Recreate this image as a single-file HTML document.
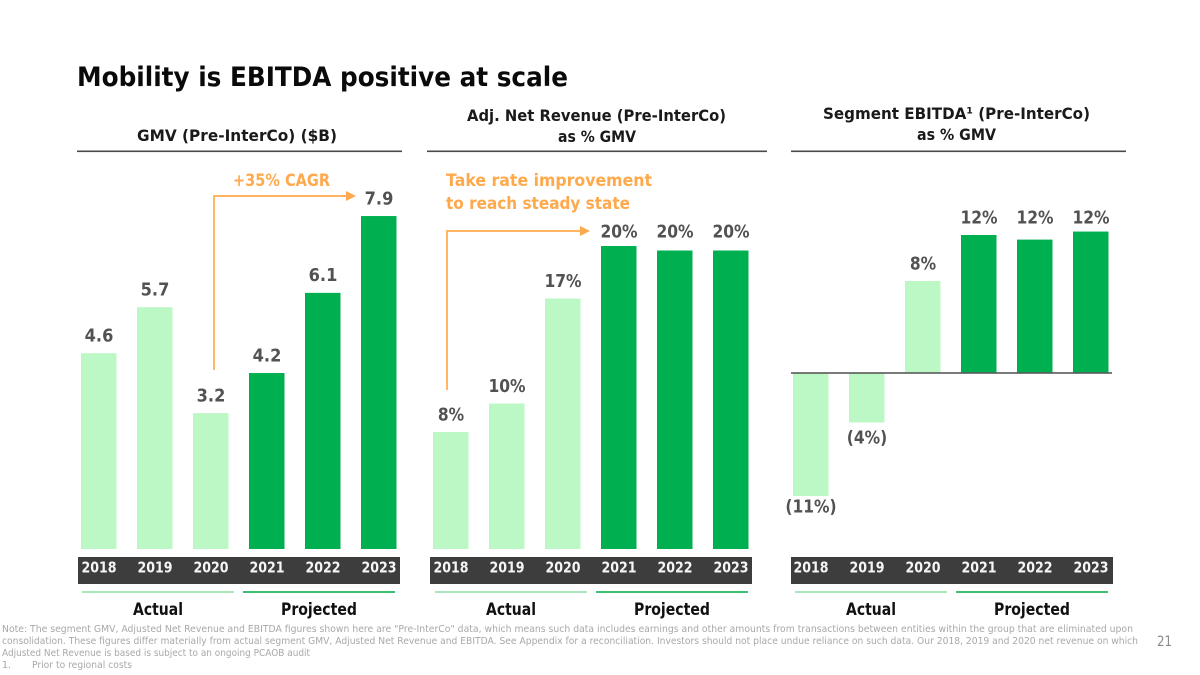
<!DOCTYPE html>
<html lang="en">
<head>
<meta charset="utf-8">
<title>Mobility is EBITDA positive at scale</title>
<style>
html,body{margin:0;padding:0;background:#fff;width:1200px;height:675px;overflow:hidden}
svg{display:block}
text{font-family:"DejaVu Sans","Liberation Sans",sans-serif}
.b{font-weight:700}
.head{font-size:16px;font-weight:700;fill:#1a1a1a}
.orange{font-size:17px;font-weight:700;fill:#ffa94d}
.group{font-size:16.5px;font-weight:700;fill:#111}
.note{font-size:9.5px;fill:#a8a8a8}
</style>
</head>
<body>
<svg id="slide" width="1200" height="675" viewBox="0 0 1200 675" xmlns="http://www.w3.org/2000/svg">
<text class="b" x="77" y="86" font-size="27" fill="#0a0a0a" textLength="491" lengthAdjust="spacingAndGlyphs">Mobility is EBITDA positive at scale</text>

<text class="head" x="137" y="141" textLength="200" lengthAdjust="spacingAndGlyphs">GMV (Pre-InterCo) ($B)</text>
<text class="head" x="467" y="121" textLength="259" lengthAdjust="spacingAndGlyphs">Adj. Net Revenue (Pre-InterCo)</text>
<text class="head" x="558" y="142" textLength="78" lengthAdjust="spacingAndGlyphs">as % GMV</text>
<text class="head" x="823" y="119" textLength="267" lengthAdjust="spacingAndGlyphs">Segment EBITDA¹ (Pre-InterCo)</text>
<text class="head" x="917" y="140" textLength="79" lengthAdjust="spacingAndGlyphs">as % GMV</text>

<rect x="77" y="150.5" width="325" height="1.6" fill="#4a4a4a"/>
<rect x="427" y="150.5" width="340" height="1.6" fill="#4a4a4a"/>
<rect x="791" y="150.5" width="335" height="1.6" fill="#4a4a4a"/>

<g id="charts"></g>

<g>
<text class="orange" x="233" y="186" textLength="97" lengthAdjust="spacingAndGlyphs">+35% CAGR</text>
<path d="M214 370V196H347" fill="none" stroke="#ffa94d" stroke-width="1.7"/>
<path d="M346 191L356 196L346 201Z" fill="#ffa94d"/>
</g>
<g>
<text class="orange" x="446" y="186" textLength="206" lengthAdjust="spacingAndGlyphs">Take rate improvement</text>
<text class="orange" x="446" y="209" textLength="184" lengthAdjust="spacingAndGlyphs">to reach steady state</text>
<path d="M447 390V231H581" fill="none" stroke="#ffa94d" stroke-width="1.7"/>
<path d="M580 226L590 231L580 236Z" fill="#ffa94d"/>
</g>

<g>
<text class="note" x="2" y="632" textLength="1131" lengthAdjust="spacingAndGlyphs">Note: The segment GMV, Adjusted Net Revenue and EBITDA figures shown here are "Pre-InterCo" data, which means such data includes earnings and other amounts from transactions between entities within the group that are eliminated upon</text>
<text class="note" x="2" y="644" textLength="1136" lengthAdjust="spacingAndGlyphs">consolidation. These figures differ materially from actual segment GMV, Adjusted Net Revenue and EBITDA. See Appendix for a reconciliation. Investors should not place undue reliance on such data. Our 2018, 2019 and 2020 net revenue on which</text>
<text class="note" x="2" y="656" textLength="308" lengthAdjust="spacingAndGlyphs">Adjusted Net Revenue is based is subject to an ongoing PCAOB audit</text>
<text class="note" x="2" y="668">1.</text>
<text class="note" x="32" y="668" textLength="100" lengthAdjust="spacingAndGlyphs">Prior to regional costs</text>
</g>
<text x="1157" y="646" font-size="14" fill="#8a8a8a" textLength="15" lengthAdjust="spacingAndGlyphs">21</text>
</svg>
<script>
var years = ['2018', '2019', '2020', '2021', '2022', '2023'];
var groupLabels = ['Actual', 'Projected'];

var gmvValues = [4.64, 5.73, 3.22, 4.17, 6.07, 7.89];
var gmvPrinted = [4.6, 5.7, 3.2, 4.2, 6.1, 7.9];

var revenueValues = [7.8, 9.7, 16.7, 20.2, 19.9, 19.9];
var revenuePrinted = [8, 10, 17, 20, 20, 20];

var ebitdaValues = [-10.7, -4.3, 8, 12, 11.6, 12.3];
var ebitdaPrinted = [-11, -4, 8, 12, 12, 12];

var NS = 'http://www.w3.org/2000/svg';
var root = document.getElementById('charts');

function make(tag, parent) {
  var el = document.createElementNS(NS, tag);
  parent.appendChild(el);
  return el;
}
function setAll(el, o) {
  for (var k in o) el.setAttribute(k, o[k]);
}
function condense(el, factor) {
  var w = el.getComputedTextLength();
  el.setAttribute('textLength', (w * factor).toFixed(1));
  el.setAttribute('lengthAdjust', 'spacingAndGlyphs');
}
function fmtNumber(v) {
  return v.toFixed(1);
}
function fmtPercent(v) {
  return v < 0 ? '(' + Math.abs(v) + '%)' : v + '%';
}

function drawChart(cfg) {
  var g = make('g', root);
  
  

  function xAt(i) { return cfg.firstBar + i * 56; }
  function yAt(v) { return cfg.zeroY - v * cfg.scale; }

  cfg.values.forEach(function (v, i) {
    var r = make('rect', g);
    
    
    var top = Math.min(yAt(v), cfg.zeroY);
    setAll(r, { x: xAt(i), y: top, width: 35.5, height: Math.abs(yAt(v) - cfg.zeroY), fill: i < 3 ? '#bbf8c6' : '#00b050' });
  });

  cfg.printed.forEach(function (v, i) {
    var t = make('text', g);
    
    
    var y;
    if (v < 0) {
      y = yAt(cfg.values[i]) + 24 - 0.7 * Math.abs(v);
    } else {
      /* bars printing the same rounded value share one label height */
      var sum = 0, n = 0;
      cfg.printed.forEach(function (p, j) {
        if (p === v) { sum += yAt(cfg.values[j]); n++; }
      });
      y = sum / n - 11.7;
    }
    setAll(t, { x: xAt(i) + 18, y: y, 'text-anchor': 'middle', 'font-size': 18, 'font-weight': 700, fill: '#525252' });
    t.textContent = cfg.format(v);
    condense(t, cfg.labelFit);
  });

  if (cfg.zeroLine) {
    var z = make('rect', g);
    
    
    setAll(z, { x: cfg.bandX, y: cfg.zeroY - 0.8, width: 321, height: 1.6, fill: '#5a5a5a' });
  }

  var band = make('rect', g);
  
  
  setAll(band, { x: cfg.bandX, y: 557, width: 322, height: 27, fill: '#3d3d3d' });

  years.forEach(function (y, i) {
    var t = make('text', g);
    
    
    setAll(t, { x: xAt(i) + 18, y: 572.5, 'text-anchor': 'middle', 'font-size': 15, 'font-weight': 700, fill: '#f5f5f5' });
    t.textContent = y;
    condense(t, 0.84);
  });

  var actualLine = make('rect', g);
  
  
  setAll(actualLine, { x: cfg.bracketX, y: 591, width: 152, height: 2, fill: '#a9e8bb' });

  var projectedLine = make('rect', g);
  
  
  setAll(projectedLine, { x: cfg.bracketX + 161, y: 591, width: 152, height: 2, fill: '#3fbf73' });

  var actualText = make('text', g);
  
  
  setAll(actualText, { x: cfg.bracketX + 51, y: 615, 'class': 'group', textLength: 50, lengthAdjust: 'spacingAndGlyphs' });
  actualText.textContent = groupLabels[0];

  var projectedText = make('text', g);
  
  
  setAll(projectedText, { x: cfg.bracketX + 199, y: 615, 'class': 'group', textLength: 76, lengthAdjust: 'spacingAndGlyphs' });
  projectedText.textContent = groupLabels[1];
}

drawChart({ name: 'gmv-chart', values: gmvValues, printed: gmvPrinted, firstBar: 81, bandX: 78, bracketX: 82, zeroY: 549, scale: 42.2, format: fmtNumber, labelFit: 0.9 });
drawChart({ name: 'net-revenue-chart', values: revenueValues, printed: revenuePrinted, firstBar: 433, bandX: 430, bracketX: 435, zeroY: 549, scale: 15, format: fmtPercent, labelFit: 0.86 });
drawChart({ name: 'ebitda-chart', values: ebitdaValues, printed: ebitdaPrinted, firstBar: 793, bandX: 791, bracketX: 795, zeroY: 373, scale: 11.5, format: fmtPercent, labelFit: 0.86, zeroLine: true });
</script>
</body>
</html>
